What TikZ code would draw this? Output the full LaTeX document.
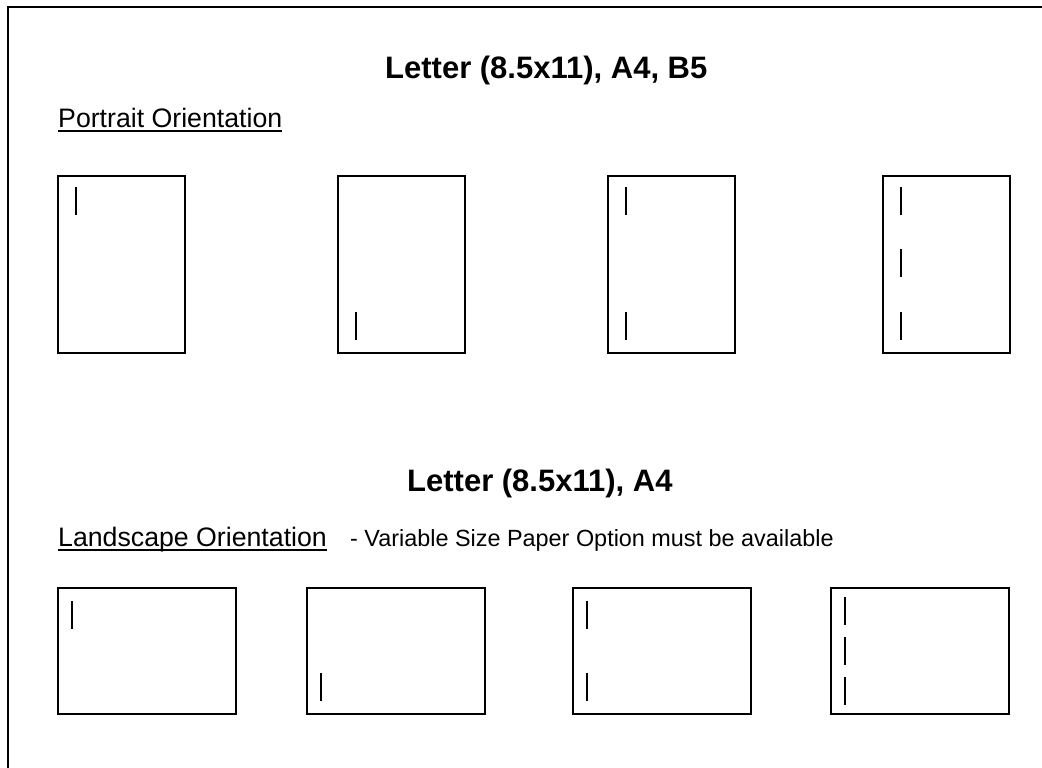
\documentclass[tikz,border=0pt]{standalone}
\usepackage{fontspec}
\setmainfont{Liberation Sans}
\begin{document}
\begin{tikzpicture}[x=1pt,y=-1pt,
  paperP/.style={draw, line width=1.5pt, inner sep=0pt, outer sep=0pt, minimum width=127pt, minimum height=177pt, anchor=north west},
  paperL/.style={draw, line width=1.5pt, inner sep=0pt, outer sep=0pt, minimum width=178pt, minimum height=126pt, anchor=north west},
  tick/.style={line width=1.2pt},
  title/.style={anchor=base west, inner sep=0pt, font=\fontsize{31}{31}\selectfont\bfseries},
  sub/.style={anchor=base west, inner sep=0pt, font=\fontsize{26.7}{27}\selectfont},
  note/.style={anchor=base west, inner sep=0pt, font=\fontsize{23.4}{24}\selectfont},
  uline/.style={line width=2pt}]
\useasboundingbox (0,0) rectangle (1042,768);
\begin{scope}
\clip (0,0) rectangle (1042,768);
\draw[line width=1.5pt] (8,7) rectangle (1060,790);
\end{scope}
% titles
\node[title] (t1) at (385,79) {Letter (8.5x11), A4, B5};
\node[sub] (s1) at (58,127) {Portrait Orientation};
\draw[uline] ([yshift=-4pt]s1.base west) -- ([yshift=-4pt]s1.base east);
\node[title] (t2) at (407,491) {Letter (8.5x11), A4};
\node[sub] (s2) at (58,546) {Landscape Orientation};
\draw[uline] ([yshift=-4pt]s2.base west) -- ([yshift=-4pt]s2.base east);
\node[note] (n2) at (350,546) {- Variable Size Paper Option must be available};
% portrait papers
\node[paperP] (p1) at (58,176) {};
\node[paperP] (p2) at (338,176) {};
\node[paperP] (p3) at (608,176) {};
\node[paperP] (p4) at (883,176) {};
\draw[tick] ([shift={(18,11)}]p1.north west) -- ++(0,28);
\draw[tick] ([shift={(18,-41)}]p2.south west) -- ++(0,28);
\draw[tick] ([shift={(18,11)}]p3.north west) -- ++(0,28);
\draw[tick] ([shift={(18,-41)}]p3.south west) -- ++(0,28);
\draw[tick] ([shift={(18,11)}]p4.north west) -- ++(0,28);
\draw[tick] ([shift={(18,73)}]p4.north west) -- ++(0,28);
\draw[tick] ([shift={(18,-41)}]p4.south west) -- ++(0,28);
% landscape papers
\node[paperL] (l1) at (58,588) {};
\node[paperL] (l2) at (307,588) {};
\node[paperL] (l3) at (573,588) {};
\node[paperL] (l4) at (831,588) {};
\draw[tick] ([shift={(14,13)}]l1.north west) -- ++(0,28);
\draw[tick] ([shift={(14,-41)}]l2.south west) -- ++(0,28);
\draw[tick] ([shift={(14,13)}]l3.north west) -- ++(0,28);
\draw[tick] ([shift={(14,-41)}]l3.south west) -- ++(0,28);
\draw[tick] ([shift={(14,9)}]l4.north west) -- ++(0,28);
\draw[tick] ([shift={(14,49)}]l4.north west) -- ++(0,28);
\draw[tick] ([shift={(14,89)}]l4.north west) -- ++(0,28);
\end{tikzpicture}
\end{document}
